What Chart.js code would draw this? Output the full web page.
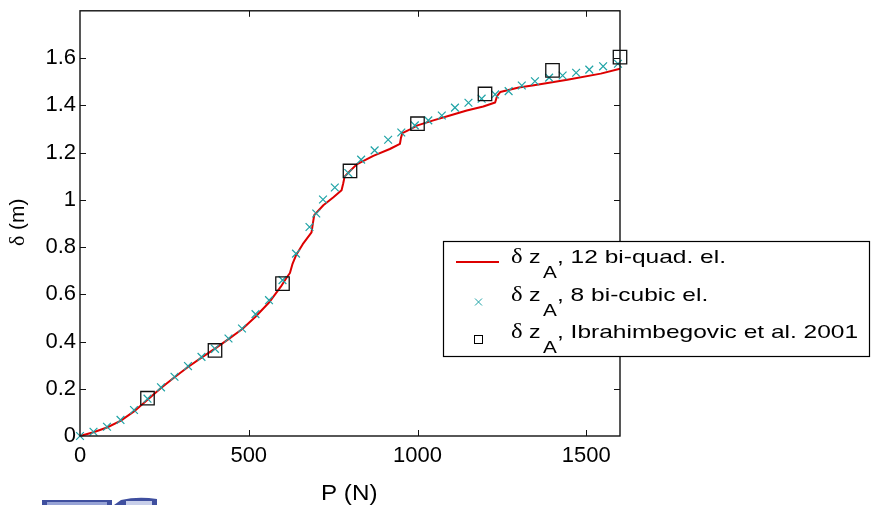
<!DOCTYPE html>
<html>
<head>
<meta charset="utf-8">
<script src="https://cdn.jsdelivr.net/npm/chart.js@4"></script>
<style>
  html, body { margin: 0; padding: 0; background: #fff; }
  #chart { display: block; }
</style>
</head>
<body>
<canvas id="chart" width="871" height="505"></canvas>
<script>
// DATA
const xTicks = [0, 500, 1000, 1500];
const yTicks = [0, 0.2, 0.4, 0.6, 0.8, 1, 1.2, 1.4, 1.6];

// 12 bi-quadratic elements (red line)
const quadP = [0, 40, 80, 120, 160, 200, 240, 280, 320, 360, 400, 440, 480, 520, 560, 595, 612, 622, 630, 640,
  660, 686, 690, 694, 721, 750, 775, 780, 784, 800, 820, 869, 918, 948, 951, 955, 978, 1000, 1047, 1096,
  1146, 1195, 1230, 1236, 1245, 1300, 1345, 1444, 1543, 1600];
const quadD = [0, 0.016, 0.036, 0.064, 0.104, 0.153, 0.203, 0.249, 0.292, 0.332, 0.37, 0.41, 0.452, 0.505, 0.565, 0.632, 0.67, 0.69, 0.73, 0.765,
  0.812, 0.862, 0.9, 0.935, 0.977, 1.01, 1.04, 1.07, 1.098, 1.122, 1.15, 1.186, 1.215, 1.237, 1.262, 1.282, 1.298, 1.315, 1.336, 1.357,
  1.378, 1.395, 1.412, 1.44, 1.456, 1.475, 1.485, 1.508, 1.534, 1.555];

// 8 bi-cubic elements (cyan crosses)
const cubicP = [0, 40, 80, 120, 160, 200, 240, 280, 320, 360, 400, 440, 480, 520, 560, 600, 640, 680, 700, 720,
  755, 795, 833, 873, 913, 952, 992, 1032, 1072, 1111, 1151, 1190, 1230, 1270, 1309, 1348, 1390, 1430, 1470, 1509,
  1550, 1594];
const cubicD = [0, 0.018, 0.039, 0.068, 0.110, 0.158, 0.206, 0.251, 0.296, 0.335, 0.369, 0.413, 0.455, 0.516, 0.575, 0.660, 0.772, 0.885, 0.942, 1.001,
  1.052, 1.113, 1.170, 1.209, 1.254, 1.285, 1.315, 1.336, 1.357, 1.390, 1.411, 1.428, 1.446, 1.460, 1.484, 1.502, 1.517, 1.526, 1.538, 1.551,
  1.565, 1.576];

// Ibrahimbegovic et al. 2001 (squares)
const refP = [200, 400, 600, 800, 1000, 1200, 1400, 1600];
const refD = [0.16, 0.362, 0.645, 1.122, 1.322, 1.448, 1.548, 1.604];

const RED = '#dd0000';
const TEAL = '#1fa3a6';
const SANS = '"Liberation Sans", Arial, sans-serif';
const SERIF = '"Liberation Serif", "Times New Roman", serif';

const toXY = (xs, ys) => xs.map((x, i) => ({ x: x, y: ys[i] }));

// stretched text helper (the original picture is a bit wide)
function txt(ctx, s, x, y, font, sx) {
  ctx.save();
  ctx.translate(x, y);
  ctx.scale(sx || 1, 1);
  ctx.font = font;
  ctx.fillText(s, 0, 0);
  ctx.restore();
}

// FRAME, INWARD TICKS, TITLES, LEGEND
const decor = {
  id: 'decor',
  afterDraw(chart) {
    const ctx = chart.ctx;
    const a = chart.chartArea;
    const xs = chart.scales.x, ys = chart.scales.y;
    ctx.save();
    ctx.strokeStyle = '#111';
    ctx.lineWidth = 1.4;
    ctx.strokeRect(a.left, a.top, a.right - a.left, a.bottom - a.top);

    ctx.lineWidth = 1;
    ctx.beginPath();
    xTicks.forEach(v => {
      if (v === 0) return;
      const px = Math.round(xs.getPixelForValue(v)) + 0.5;
      ctx.moveTo(px, a.bottom); ctx.lineTo(px, a.bottom - 6);
      ctx.moveTo(px, a.top); ctx.lineTo(px, a.top + 6);
    });
    yTicks.forEach(v => {
      if (v === 0) return;
      const py = Math.round(ys.getPixelForValue(v)) + 0.5;
      ctx.moveTo(a.left, py); ctx.lineTo(a.left + 6, py);
      ctx.moveTo(a.right, py); ctx.lineTo(a.right - 6, py);
    });
    ctx.stroke();

    // axis titles
    ctx.fillStyle = '#000';
    ctx.textBaseline = 'alphabetic';
    ctx.textAlign = 'left';
    txt(ctx, 'P (N)', 321, 500, '22px ' + SANS, 1.1);

    ctx.save();
    ctx.translate(24, 246);
    ctx.rotate(-Math.PI / 2);
    txt(ctx, 'δ', 0, 0, '22px ' + SERIF, 1);
    txt(ctx, '(m)', 16, 0, '21px ' + SANS, 1);
    ctx.restore();

    // legend
    const L = { x: 443, y: 241, w: 427, h: 116 };
    ctx.fillStyle = '#fff';
    ctx.fillRect(L.x, L.y, L.w, L.h);
    ctx.strokeStyle = '#000';
    ctx.lineWidth = 1.2;
    ctx.strokeRect(L.x + 0.5, L.y + 0.5, L.w - 1, L.h - 1);

    const labels = chart.data.datasets.map(d => d.label);
    const rows = [263, 301, 338];
    ctx.fillStyle = '#000';
    rows.forEach((by, i) => {
      txt(ctx, 'δ', 511, by, '22px ' + SERIF, 1.12);
      txt(ctx, 'z', 529, by, '19px ' + SANS, 1.22);
      txt(ctx, 'A', 543, by + 15, '17px ' + SANS, 1.22);
      txt(ctx, ', ' + labels[i], 557, by, '19px ' + SANS, 1.29);
    });
    // legend symbols
    ctx.strokeStyle = RED;
    ctx.lineWidth = 2;
    ctx.beginPath();
    ctx.moveTo(456, 262); ctx.lineTo(499, 262);
    ctx.stroke();
    ctx.strokeStyle = TEAL;
    ctx.lineWidth = 1;
    ctx.beginPath();
    ctx.moveTo(475, 298.5); ctx.lineTo(482, 305.5);
    ctx.moveTo(482, 298.5); ctx.lineTo(475, 305.5);
    ctx.stroke();
    ctx.strokeStyle = '#000';
    ctx.strokeRect(474.5, 335.5, 8, 8);

    // scrap of a blue logo at the bottom edge of the original
    ctx.fillStyle = '#3f4f9f';
    ctx.fillRect(42, 500, 70, 5);
    ctx.fillStyle = '#97a3d6';
    ctx.fillRect(47, 502, 60, 3);
    ctx.fillStyle = '#3f4f9f';
    ctx.beginPath();
    ctx.moveTo(114, 505);
    ctx.lineTo(121, 500);
    ctx.quadraticCurveTo(138, 496, 157, 499);
    ctx.lineTo(157, 505);
    ctx.closePath();
    ctx.fill();
    ctx.fillStyle = '#c8cfea';
    ctx.fillRect(126, 501, 26, 4);
    ctx.restore();
  }
};

let chart;

function initChart() {
  const ctx = document.getElementById('chart');
  chart = new Chart(ctx, {
    type: 'scatter',
    data: {
      datasets: [{
        label: '12 bi-quad. el.',
        data: toXY(quadP, quadD),
        showLine: true,
        borderColor: RED,
        borderWidth: 2,
        borderJoinStyle: 'round',
        pointRadius: 0,
        tension: 0,
        clip: false,
        order: 3
      }, {
        label: '8 bi-cubic el.',
        data: toXY(cubicP, cubicD),
        showLine: false,
        pointStyle: 'crossRot',
        pointRadius: 5.5,
        pointBorderColor: TEAL,
        pointBorderWidth: 1.2,
        clip: false,
        order: 2
      }, {
        label: 'Ibrahimbegovic et al. 2001',
        data: toXY(refP, refD),
        showLine: false,
        pointStyle: 'rect',
        pointRadius: 9.5,
        pointBackgroundColor: 'rgba(0,0,0,0)',
        pointBorderColor: '#111',
        pointBorderWidth: 1.3,
        clip: false,
        order: 1
      }]
    },
    options: {
      responsive: false,
      animation: false,
      layout: { padding: { left: 0, right: 251, top: 9, bottom: 0 } },
      plugins: { legend: { display: false }, tooltip: { enabled: false } },
      scales: {
        x: {
          type: 'linear',
          min: 0,
          max: 1600,
          grid: { display: false, drawTicks: false },
          border: { display: false },
          afterBuildTicks: s => { s.ticks = xTicks.map(v => ({ value: v })); },
          afterFit: s => { s.height = 69; s.paddingLeft = 0; s.paddingRight = 0; },
          ticks: { color: '#000', padding: 7, maxRotation: 0, font: { family: SANS, size: 22 },
            callback: v => String(v) }
        },
        y: {
          type: 'linear',
          min: 0,
          max: 1.8,
          grid: { display: false, drawTicks: false },
          border: { display: false },
          afterBuildTicks: s => { s.ticks = yTicks.map(v => ({ value: v })); },
          afterFit: s => { s.width = 80; s.paddingTop = 0; s.paddingBottom = 0; },
          ticks: { color: '#000', padding: 4, font: { family: SANS, size: 22 },
            callback: v => String(Math.round(v * 10) / 10) }
        }
      }
    },
    plugins: [decor]
  });
}

initChart();
</script>
</body>
</html>
